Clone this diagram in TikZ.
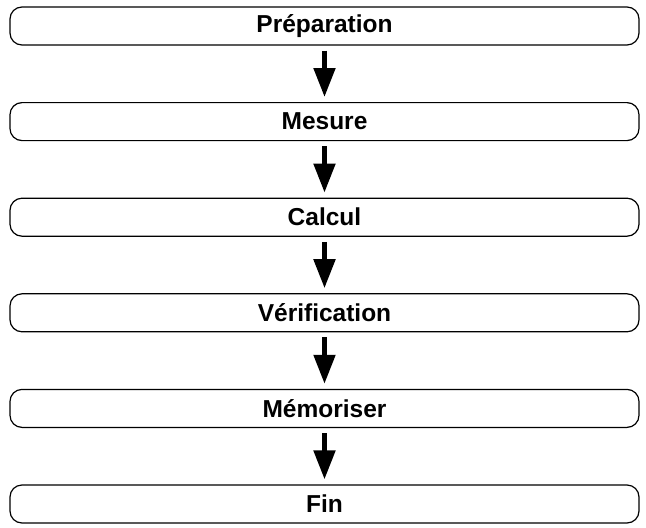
\documentclass[tikz,border=0pt]{standalone}
\usepackage{fontspec}
\setmainfont{Liberation Sans}
\usetikzlibrary{arrows.meta}
\begin{document}
\begin{tikzpicture}[x=1pt,y=1pt,
  stepbox/.style={draw=black, line width=1.2pt, rounded corners=12pt,
    minimum width=629pt, minimum height=38pt, inner sep=0pt,
    font=\fontsize{24.5}{27}\selectfont\bfseries},
  flow/.style={line width=5pt, shorten <=5pt, shorten >=5pt,
    -{Triangle[width=21pt,length=29pt]}}]
\useasboundingbox (0,0) rectangle (646,-528);
\node[stepbox] (p) at (324.5,-26) {Préparation};
\node[stepbox] (m) at (324.5,-121.6) {Mesure};
\node[stepbox] (c) at (324.5,-217.2) {Calcul};
\node[stepbox] (v) at (324.5,-312.8) {Vérification};
\node[stepbox] (s) at (324.5,-408.4) {Mémoriser};
\node[stepbox] (f) at (324.5,-504) {Fin};
\draw[flow] (p.south) -- (m.north);
\draw[flow] (m.south) -- (c.north);
\draw[flow] (c.south) -- (v.north);
\draw[flow] (v.south) -- (s.north);
\draw[flow] (s.south) -- (f.north);
\end{tikzpicture}
\end{document}
